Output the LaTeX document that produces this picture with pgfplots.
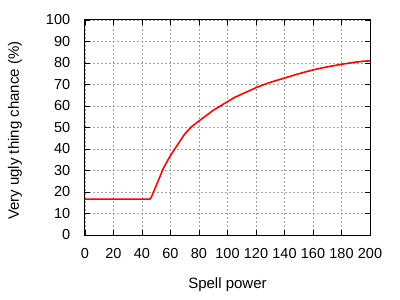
\documentclass[border=0pt]{standalone}
\usepackage{fontspec}
\setmainfont{Liberation Sans}
\usepackage{pgfplots}
\pgfplotsset{compat=1.18}
\begin{document}
\fontsize{14bp}{16bp}\selectfont
\begin{tikzpicture}
\path[use as bounding box] (-85bp,-65bp) rectangle (315bp,235bp);
\begin{axis}[
  at={(0,0)}, anchor=south west,
  width=285bp, height=215bp, scale only axis,
  xmin=0, xmax=200, ymin=0, ymax=100,
  xtick={0,20,...,200}, ytick={0,10,...,100},
  tick align=inside, major tick length=5bp,
  /pgf/number format/assume math mode=true,
  tick label style={font=\fontsize{14.5bp}{16bp}\selectfont},
  label style={font=\fontsize{15bp}{17bp}\selectfont},
  xticklabel style={yshift=-9bp},
  yticklabel style={xshift=-10bp},
  grid=major,
  major grid style={gray!75, dash pattern=on 2bp off 2bp, line width=0.6bp},
  axis line style={line width=1bp},
  every tick/.style={black, line width=0.8bp},
  xlabel={Spell power},
  ylabel={Very ugly thing chance (\%)},
  xlabel style={at={(axis description cs:0.5,-0.2326)}, anchor=center},
  ylabel style={at={(axis description cs:-0.2456,0.485)}, anchor=center},
]
\addplot[red, line width=1.6bp] coordinates {
(0,16.7) (10,16.7) (20,16.7) (30,16.7) (40,16.7) (45.5,16.7) (46.5,17.5)
(50,23) (55,31) (60,37) (65,42) (70,47) (75,50.5) (80,53) (85,55.5)
(90,58) (95,60) (100,62) (105,64) (110,65.5) (115,67) (120,68.5)
(125,69.8) (130,71) (135,72) (140,73) (145,74) (150,75) (155,75.9)
(160,76.8) (165,77.5) (170,78.2) (175,78.8) (180,79.4) (185,79.9)
(190,80.4) (195,80.8) (200,81)
};
\end{axis}
\end{tikzpicture}
\end{document}
